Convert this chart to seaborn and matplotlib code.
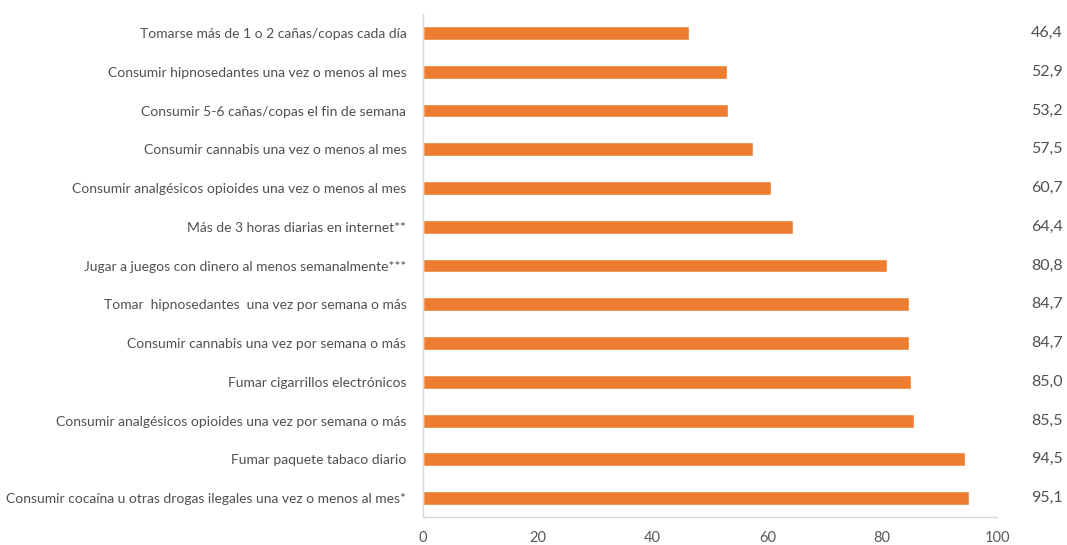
import matplotlib
matplotlib.use("Agg")
import matplotlib.pyplot as plt
import seaborn as sns
import pandas as pd

categories = [
    "Tomarse más de 1 o 2 cañas/copas cada día",
    "Consumir hipnosedantes una vez o menos al mes",
    "Consumir 5-6 cañas/copas el fin de semana",
    "Consumir cannabis una vez o menos al mes",
    "Consumir analgésicos opioides una vez o menos al mes",
    "Más de 3 horas diarias en internet**",
    "Jugar a juegos con dinero al menos semanalmente***",
    "Tomar  hipnosedantes  una vez por semana o más",
    "Consumir cannabis una vez por semana o más",
    "Fumar cigarrillos electrónicos",
    "Consumir analgésicos opioides una vez por semana o más",
    "Fumar paquete tabaco diario",
    "Consumir cocaína u otras drogas ilegales una vez o menos al mes*",
]
values = [46.4, 52.9, 53.2, 57.5, 60.7, 64.4, 80.8, 84.7, 84.7, 85.0, 85.5, 94.5, 95.1]
value_labels = ["46,4", "52,9", "53,2", "57,5", "60,7", "64,4", "80,8", "84,7", "84,7", "85,0", "85,5", "94,5", "95,1"]
xticks = [0, 20, 40, 60, 80, 100]

sns.set_theme(style="white")
plt.rcParams['font.family'] = ['Lato', 'DejaVu Sans']

df = pd.DataFrame({"cat": categories, "val": values})

fig = plt.figure(figsize=(10.67, 5.45), dpi=100)
ax = fig.add_axes([0.3964, 0.0506, 0.5380, 0.9244])
sns.barplot(data=df, x="val", y="cat", orient="h", color="#ED7D31",
            saturation=1, width=0.36, ax=ax)

ax.set_xlim(0, 100)
ax.set_xticks(xticks)
ax.set_xticklabels([str(t) for t in xticks])
ax.set_xlabel("")
ax.set_ylabel("")
ax.tick_params(axis="x", length=0, pad=10, labelsize=10.5, labelcolor="#595959")
ax.tick_params(axis="y", length=0, pad=12, labelsize=10, labelcolor="#505050")

for s in ["top", "right"]:
    ax.spines[s].set_visible(False)
for s in ["left", "bottom"]:
    ax.spines[s].set_color("#D9D9D9")
    ax.spines[s].set_linewidth(1.0)

for i, lab in enumerate(value_labels):
    ax.text(108.7, i, lab, ha="center", va="center", fontsize=11.5,
            color="#505050", clip_on=False)

fig.savefig("out.png", dpi=100)
